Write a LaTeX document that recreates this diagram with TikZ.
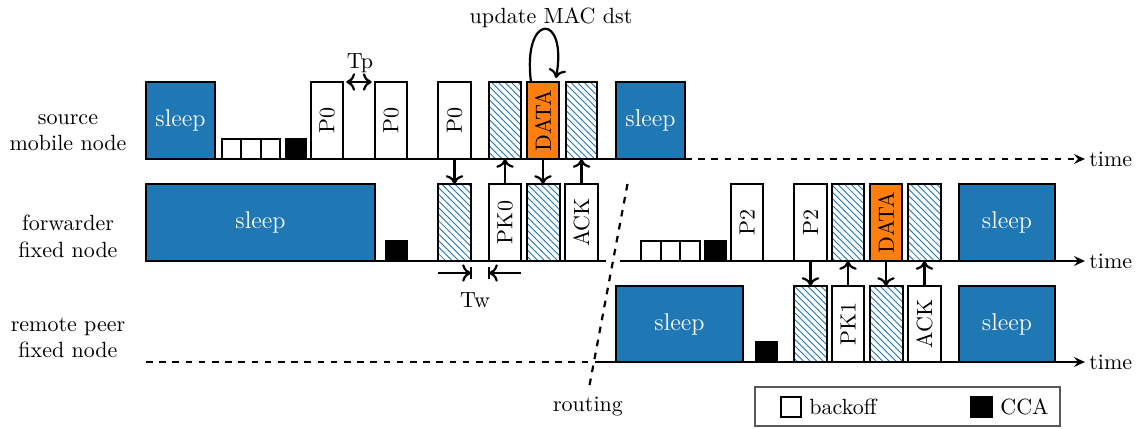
\documentclass[tikz,border=0pt]{standalone}
\usepackage{graphicx}
\usetikzlibrary{patterns,arrows.meta,calc}
\definecolor{tabblue}{HTML}{1F77B4}
\definecolor{taborange}{HTML}{FF7F0E}
% one drawing unit
\def\pu{0.4545pt}
% \tslot{style}{name}{x left}{x right}{y top}{y bottom}{text}
\newcommand\tslot[7]{\node[#1,anchor=south west,minimum width={(#4-#3)*\pu},minimum height={(#6-#5)*\pu}] (#2) at (#3,#6) {#7};}
\newcommand\vlab[1]{\rotatebox{90}{#1}}

\begin{document}
\begin{tikzpicture}[x=\pu,y=-\pu,
  slotbase/.style={rectangle,draw=black,line width=1pt,inner sep=0pt,outer sep=0pt},
  sleepbox/.style={slotbase,fill=tabblue,text=white,font=\fontsize{11}{13}\selectfont},
  pktbox/.style={slotbase,fill=white},
  databox/.style={slotbase,fill=taborange},
  rxbox/.style={slotbase,pattern=north west lines,pattern color=tabblue},
  boffbox/.style={slotbase,fill=white},
  ccabox/.style={slotbase,fill=black},
  legendbox/.style={rectangle,draw=black!65,line width=0.7pt,inner sep=0pt,outer sep=0pt,fill=white},
  axisline/.style={line width=1pt},
  timearrow/.style={axisline,-{Stealth[length=5pt,width=4.5pt,inset=1.8pt]}},
  msg/.style={line width=1pt,-{Computer Modern Rightarrow[length=4pt,width=8pt]}},
  dimarrow/.style={line width=1pt,-{Computer Modern Rightarrow[length=4pt,width=8pt]}},
  timelab/.style={anchor=west,inner sep=1.8pt},
  rowlab/.style={align=center}
]
\fill[white] (0,0) rectangle (1141,429);
\useasboundingbox (0,0) rectangle (1141,429);

% time axes
\coordinate (t1s) at (146,159); \coordinate (t1m) at (685,159); \coordinate (t1e) at (1085,159);
\coordinate (t2s) at (146,261); \coordinate (t2g) at (606,261); \coordinate (t2h) at (620,261); \coordinate (t2e) at (1085,261);
\coordinate (t3s) at (146,362); \coordinate (t3m) at (601,362); \coordinate (t3e) at (1085,362);
\draw[axisline] (t1s) -- (t1m);
\draw[timearrow,dashed] (t1m) -- (t1e);
\draw[axisline] (t2s) -- (t2g);
\draw[timearrow] (t2h) -- (t2e);
\draw[axisline,dashed] (t3s) -- (t3m);
\draw[timearrow] (t3m) -- (t3e);
\node[timelab] (time1) at (t1e) {time};
\node[timelab] (time2) at (t2e) {time};
\node[timelab] (time3) at (t3e) {time};

% row labels
\node[rowlab] (srclab) at (68,132.5) {source\\mobile node};
\node[rowlab] (fwdlab) at (68,236.5) {forwarder\\fixed node};
\node[rowlab] (remlab) at (68,338) {remote peer\\fixed node};

% source mobile node
\tslot{sleepbox}{sl1a}{146}{215}{82}{159}{sleep}
\tslot{boffbox}{bo1a}{222}{241.3}{139}{159}{}
\tslot{boffbox}{bo1b}{241.3}{260.7}{139}{159}{}
\tslot{boffbox}{bo1c}{260.7}{280}{139}{159}{}
\tslot{ccabox}{cca1}{286}{306}{139}{159}{}
\tslot{pktbox}{p0a}{311}{343}{82}{159}{\vlab{P0}}
\tslot{pktbox}{p0b}{375}{407}{82}{159}{\vlab{P0}}
\tslot{pktbox}{p0c}{438}{471}{82}{159}{\vlab{P0}}
\tslot{rxbox}{rx1a}{489}{521}{82}{159}{}
\tslot{databox}{data1}{527}{559}{82}{159}{\vlab{DATA}}
\tslot{rxbox}{rx1b}{566}{597}{82}{159}{}
\tslot{sleepbox}{sl1b}{616}{685}{82}{159}{sleep}

% forwarder fixed node
\tslot{sleepbox}{sl2a}{146}{375}{184}{261}{sleep}
\tslot{ccabox}{cca2a}{386}{407}{241}{261}{}
\tslot{rxbox}{rx2a}{438}{471}{184}{261}{}
\tslot{pktbox}{pk0}{489}{521}{184}{261}{\vlab{PK0}}
\tslot{rxbox}{rx2b}{527}{560}{184}{261}{}
\tslot{pktbox}{ack0}{565}{598}{184}{261}{\vlab{ACK}}
\tslot{boffbox}{bo2a}{641}{660.7}{241}{261}{}
\tslot{boffbox}{bo2b}{660.7}{680.3}{241}{261}{}
\tslot{boffbox}{bo2c}{680.3}{700}{241}{261}{}
\tslot{ccabox}{cca2b}{705}{726}{241}{261}{}
\tslot{pktbox}{p2a}{731}{763}{184}{261}{\vlab{P2}}
\tslot{pktbox}{p2b}{794}{827}{184}{261}{\vlab{P2}}
\tslot{rxbox}{rx2c}{832}{864}{184}{261}{}
\tslot{databox}{data2}{870}{902}{184}{261}{\vlab{DATA}}
\tslot{rxbox}{rx2d}{908}{941}{184}{261}{}
\tslot{sleepbox}{sl2b}{959}{1055}{184}{261}{sleep}

% remote peer fixed node
\tslot{sleepbox}{sl3a}{616}{743}{286}{362}{sleep}
\tslot{ccabox}{cca3}{756}{777}{342}{362}{}
\tslot{rxbox}{rx3a}{794}{827}{286}{362}{}
\tslot{pktbox}{pk1}{832}{864}{286}{362}{\vlab{PK1}}
\tslot{rxbox}{rx3b}{870}{903}{286}{362}{}
\tslot{pktbox}{ack1}{908}{941}{286}{362}{\vlab{ACK}}
\tslot{sleepbox}{sl3b}{959}{1055}{286}{362}{sleep}

% messages between nodes
\draw[msg] (p0c.south) -- (p0c.south |- rx2a.north);
\draw[msg] (pk0.north) -- (pk0.north |- rx1a.south);
\draw[msg] (data1.south) -- (data1.south |- rx2b.north);
\draw[msg] (ack0.north) -- (ack0.north |- rx1b.south);
\draw[msg] (p2b.south) -- (p2b.south |- rx3a.north);
\draw[msg] (pk1.north) -- (pk1.north |- rx2c.south);
\draw[msg] (data2.south) -- (data2.south |- rx3b.north);
\draw[msg] (ack1.north) -- (ack1.north |- rx2d.south);

% preamble period
\draw[line width=1pt,{Computer Modern Rightarrow[length=4pt,width=8pt]}-{Computer Modern Rightarrow[length=4pt,width=8pt]},shorten <=1.5pt,shorten >=1.5pt] (p0a.north east) -- (p0b.north west);
\node (tp) at (360,63) {Tp};

% wake-up interval
\draw[dimarrow] ($(rx2a.south west)+(0,12)$) -- ($(rx2a.south east)+(0,12)$);
\draw[dimarrow] ($(pk0.south east)+(0,12)$) -- ($(pk0.south west)+(0,12)$);
\draw[line width=1pt] ($(rx2a.south east)+(0,6)$) -- ($(rx2a.south east)+(0,18)$);
\draw[line width=1pt] ($(pk0.south west)+(0,6)$) -- ($(pk0.south west)+(0,18)$);
\node (tw) at (475,300) {Tw};

% destination update loop
\draw[dimarrow] ($(data1.north west)+(4,0)$) .. controls ($(data1.north west)+(-5,-70)$) and ($(data1.north east)+(9,-70)$) .. ($(data1.north east)+(-3,-4)$);
\node (upd) at (551,18) {update MAC dst};

% routing change
\coordinate (rt1) at (627.5,184);
\coordinate (rt2) at (589,388);
\draw[axisline,dashed] (rt1) -- (rt2);
\node (routing) at (588,407) {routing};

% legend
\tslot{legendbox}{legend}{755}{1060}{387}{426}{}
\tslot{boffbox}{legbo}{781}{801}{397}{417}{}
\node[anchor=west,inner sep=0pt] (legbotext) at (809,407) {backoff};
\tslot{ccabox}{legcca}{971}{992}{397}{417}{}
\node[anchor=west,inner sep=0pt] (legccatext) at (1000,407) {CCA};
\end{tikzpicture}
\end{document}
